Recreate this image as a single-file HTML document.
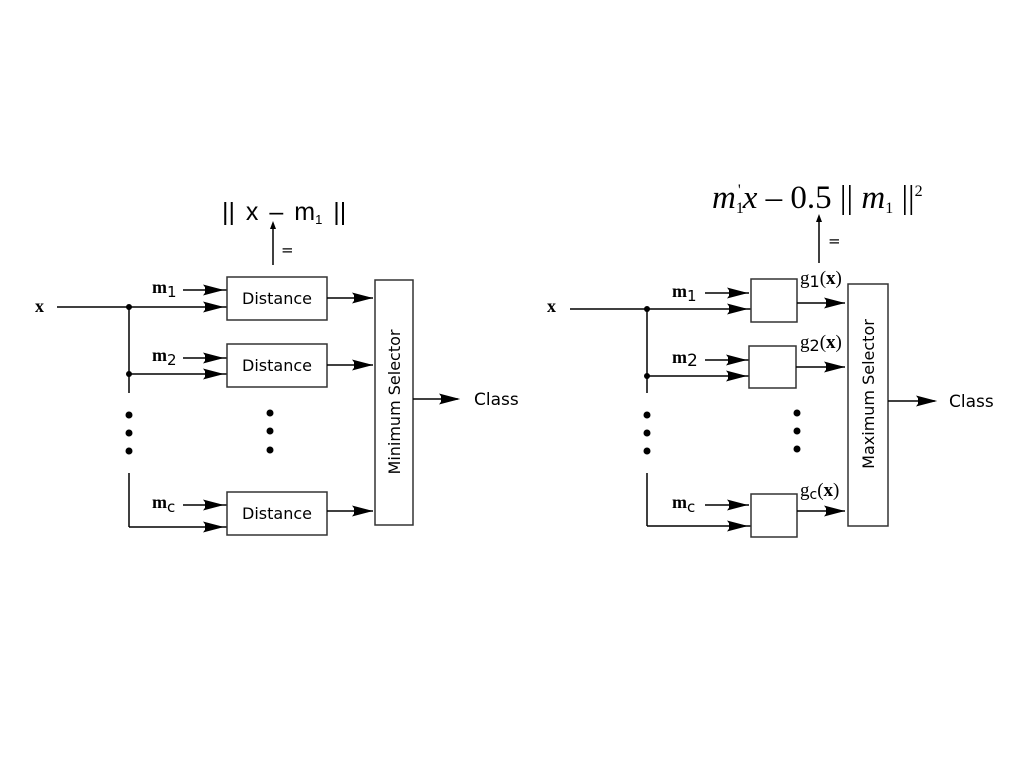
<!DOCTYPE html>
<html><head><meta charset="utf-8"><style>
html,body{margin:0;padding:0;background:#fff;width:1024px;height:768px;overflow:hidden}
svg{display:block}
.l{stroke:#000;stroke-width:1.5;fill:none}
.b{stroke:#333;stroke-width:1.5;fill:#fff}
text{fill:#000}
.d{font-family:"DejaVu Sans","Liberation Sans",sans-serif}
.s{font-family:"Liberation Serif",serif;font-weight:bold}
</style></head><body>
<svg width="1024" height="768" viewBox="0 0 1024 768">
<defs>
<g id="ah"><polygon points="0,0 -21,-5.5 -17,0 -21,5.5" fill="#000"/><polygon points="0,0 -19,-4 -19,4" fill="#000"/></g>
</defs>

<!-- LEFT -->
<text x="222" y="220" style="font-family:'Liberation Sans',sans-serif;font-size:25px;word-spacing:4px">|| x – m<tspan style="font-size:13px" dy="4">1</tspan><tspan dy="-4"> ||</tspan></text>
<line class="l" x1="273" y1="265" x2="273" y2="226"/>
<polygon points="273,221 270,229 276,229" fill="#000"/>
<text class="d" x="281" y="255" font-size="15">=</text>

<text class="s" x="35" y="312" font-size="18">x</text>
<line class="l" x1="57" y1="307" x2="227" y2="307"/>
<circle cx="129" cy="307" r="3"/>
<line class="l" x1="129" y1="307" x2="129" y2="393"/>
<circle cx="129" cy="374" r="3"/>
<line class="l" x1="129" y1="374" x2="227" y2="374"/>
<line class="l" x1="129" y1="473" x2="129" y2="527"/>
<line class="l" x1="129" y1="527" x2="227" y2="527"/>
<circle cx="129" cy="415" r="3.5"/><circle cx="129" cy="433" r="3.5"/><circle cx="129" cy="451" r="3.5"/>
<circle cx="270" cy="413" r="3.5"/><circle cx="270" cy="431" r="3.5"/><circle cx="270" cy="450" r="3.5"/>

<text class="s" x="152" y="293" font-size="18">m<tspan style="font-family:'DejaVu Sans',sans-serif;font-weight:normal;font-size:15px" dy="4">1</tspan></text>
<text class="s" x="152" y="361" font-size="18">m<tspan style="font-family:'DejaVu Sans',sans-serif;font-weight:normal;font-size:15px" dy="4">2</tspan></text>
<text class="s" x="152" y="508" font-size="18">m<tspan style="font-family:'DejaVu Sans',sans-serif;font-weight:normal;font-size:15px" dy="4">c</tspan></text>
<line class="l" x1="183" y1="290" x2="227" y2="290"/>
<line class="l" x1="183" y1="358" x2="227" y2="358"/>
<line class="l" x1="183" y1="505" x2="227" y2="505"/>
<use href="#ah" x="224" y="290"/><use href="#ah" x="224" y="307"/>
<use href="#ah" x="224" y="358"/><use href="#ah" x="224" y="374"/>
<use href="#ah" x="224" y="505"/><use href="#ah" x="224" y="527"/>

<rect class="b" x="227" y="277" width="100" height="43"/>
<rect class="b" x="227" y="344" width="100" height="43"/>
<rect class="b" x="227" y="492" width="100" height="43"/>
<text class="d" x="277" y="304" font-size="16" text-anchor="middle">Distance</text>
<text class="d" x="277" y="371" font-size="16" text-anchor="middle">Distance</text>
<text class="d" x="277" y="519" font-size="16" text-anchor="middle">Distance</text>

<line class="l" x1="327" y1="298" x2="373" y2="298"/><use href="#ah" x="373" y="298"/>
<line class="l" x1="327" y1="365" x2="373" y2="365"/><use href="#ah" x="373" y="365"/>
<line class="l" x1="327" y1="511" x2="373" y2="511"/><use href="#ah" x="373" y="511"/>

<rect class="b" x="375" y="280" width="38" height="245"/>
<text class="d" transform="translate(400,402) rotate(-90)" font-size="16" text-anchor="middle">Minimum Selector</text>
<line class="l" x1="413" y1="399" x2="458" y2="399"/><use href="#ah" x="460" y="399"/>
<text class="d" x="474" y="405" font-size="17">Class</text>

<!-- RIGHT -->
<text x="712" y="208" style="font-family:'Liberation Serif',serif;font-size:33px"><tspan font-style="italic">m</tspan><tspan style="font-size:16px" dy="5">1</tspan><tspan style="font-size:16px" dy="-18" dx="-6">'</tspan><tspan dy="13" dx="2" font-style="italic">x</tspan> – 0.5 || <tspan font-style="italic">m</tspan><tspan style="font-size:16px" dy="5">1</tspan><tspan dy="-5"> ||</tspan><tspan style="font-size:16px" dy="-12">2</tspan></text>
<line class="l" x1="819" y1="263" x2="819" y2="220"/>
<polygon points="819,214 816,222 822,222" fill="#000"/>
<text class="d" x="828" y="246" font-size="15">=</text>

<text class="s" x="547" y="312" font-size="18">x</text>
<line class="l" x1="570" y1="309" x2="751" y2="309"/>
<circle cx="647" cy="309" r="3"/>
<line class="l" x1="647" y1="309" x2="647" y2="393"/>
<circle cx="647" cy="376" r="3"/>
<line class="l" x1="647" y1="376" x2="749" y2="376"/>
<line class="l" x1="647" y1="473" x2="647" y2="526"/>
<line class="l" x1="647" y1="526" x2="751" y2="526"/>
<circle cx="647" cy="415" r="3.5"/><circle cx="647" cy="433" r="3.5"/><circle cx="647" cy="451" r="3.5"/>
<circle cx="797" cy="413" r="3.5"/><circle cx="797" cy="431" r="3.5"/><circle cx="797" cy="449" r="3.5"/>

<text class="s" x="672" y="297" font-size="18">m<tspan style="font-family:'DejaVu Sans',sans-serif;font-weight:normal;font-size:15px" dy="4">1</tspan></text>
<text class="s" x="672" y="363" font-size="18">m<tspan style="font-family:'DejaVu Sans',sans-serif;font-weight:normal;font-size:17px" dy="3">2</tspan></text>
<text class="s" x="672" y="508" font-size="18">m<tspan style="font-family:'DejaVu Sans',sans-serif;font-weight:normal;font-size:15px" dy="4">c</tspan></text>
<line class="l" x1="705" y1="293" x2="749" y2="293"/>
<line class="l" x1="705" y1="360" x2="749" y2="360"/>
<line class="l" x1="705" y1="505" x2="749" y2="505"/>
<use href="#ah" x="748" y="293"/><use href="#ah" x="748" y="309"/>
<use href="#ah" x="747" y="360"/><use href="#ah" x="747" y="376"/>
<use href="#ah" x="748" y="505"/><use href="#ah" x="748" y="526"/>

<rect class="b" x="751" y="279" width="46" height="43"/>
<rect class="b" x="749" y="346" width="47" height="42"/>
<rect class="b" x="751" y="494" width="46" height="43"/>

<text x="800" y="284" style="font-family:'Liberation Serif',serif;font-size:19px">g<tspan style="font-family:'DejaVu Sans',sans-serif;font-size:16px" dy="3">1</tspan><tspan dy="-3">(</tspan><tspan font-weight="bold">x</tspan>)</text>
<text x="800" y="348" style="font-family:'Liberation Serif',serif;font-size:19px">g<tspan style="font-family:'DejaVu Sans',sans-serif;font-size:16px" dy="3">2</tspan><tspan dy="-3">(</tspan><tspan font-weight="bold">x</tspan>)</text>
<text x="800" y="496" style="font-family:'Liberation Serif',serif;font-size:19px">g<tspan style="font-family:'DejaVu Sans',sans-serif;font-size:14px" dy="3">c</tspan><tspan dy="-3">(</tspan><tspan font-weight="bold">x</tspan>)</text>

<line class="l" x1="797" y1="303" x2="845" y2="303"/><use href="#ah" x="845" y="303"/>
<line class="l" x1="796" y1="367" x2="845" y2="367"/><use href="#ah" x="845" y="367"/>
<line class="l" x1="797" y1="511" x2="845" y2="511"/><use href="#ah" x="845" y="511"/>

<rect class="b" x="848" y="284" width="40" height="242"/>
<text class="d" transform="translate(874,394) rotate(-90)" font-size="16" text-anchor="middle">Maximum Selector</text>
<line class="l" x1="888" y1="401" x2="935" y2="401"/><use href="#ah" x="937" y="401"/>
<text class="d" x="949" y="407" font-size="17">Class</text>
</svg>
</body></html>
